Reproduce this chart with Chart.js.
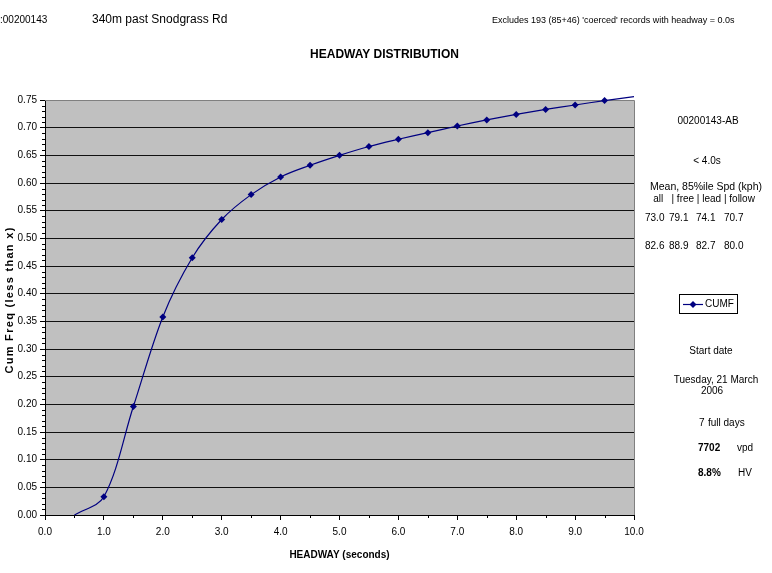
<!DOCTYPE html>
<html><head><meta charset="utf-8">
<script src="https://cdn.jsdelivr.net/npm/chart.js@4.4.1/dist/chart.umd.min.js"></script>
<style>html,body{margin:0;padding:0;background:#fff}#wrap{width:772px;height:573px;position:relative}</style>
</head><body><div id="wrap"><canvas id="c" width="772" height="573"></canvas></div>
<script>
// ---- data ----
const headway = [0.5,1.0,1.5,2.0,2.5,3.0,3.5,4.0,4.5,5.0,5.5,6.0,6.5,7.0,7.5,8.0,8.5,9.0,9.5,10.0];
const cumFreq = [0.000,0.033,0.196,0.358,0.465,0.534,0.579,0.611,0.632,0.650,0.666,0.679,0.691,0.703,0.714,0.724,0.733,0.741,0.749,0.756];
const xTickValues = [0,1,2,3,4,5,6,7,8,9,10];
const yTickValues = [0,0.05,0.10,0.15,0.20,0.25,0.30,0.35,0.40,0.45,0.50,0.55,0.60,0.65,0.70,0.75];
const seriesName = 'CUMF';
const siteId = ':00200143';
const siteName = '340m past Snodgrass Rd';
const excludesNote = "Excludes 193 (85+46) 'coerced' records with headway = 0.0s";
const chartTitle = 'HEADWAY DISTRIBUTION';
const xTitle = 'HEADWAY (seconds)';
const yTitle = 'Cum Freq (less than x)';
const panelId = '00200143-AB';
const panelLimit = '< 4.0s';
const panelSpdHead = 'Mean, 85%ile Spd (kph)';
const panelSpdCols = 'all   | free | lead | follow';
const meanSpd = ['73.0','79.1','74.1','70.7'];
const p85Spd = ['82.6','88.9','82.7','80.0'];
const startLabel = 'Start date';
const startDate = ['Tuesday, 21 March','2006'];
const fullDays = ['7','full days'];
const vpd = ['7702','vpd'];
const hv = ['8.8%','HV'];

const FONT = '"Liberation Sans", Arial, sans-serif';
const NAVY = '#000080';

const decor = {
  id:'decor',
  beforeDraw(chart){
    const {ctx, chartArea:a} = chart;
    ctx.save();
    ctx.fillStyle = '#C0C0C0';
    ctx.fillRect(a.left, a.top, a.right-a.left, a.bottom-a.top);
    ctx.restore();
  },
  beforeDatasetsDraw(chart){
    const {ctx, chartArea:a, scales} = chart;
    ctx.save();
    ctx.strokeStyle = '#808080'; ctx.lineWidth = 1;
    ctx.beginPath();
    ctx.moveTo(a.left, a.top+0.5); ctx.lineTo(a.right+0.5, a.top+0.5);
    ctx.lineTo(a.right+0.5, a.bottom);
    ctx.stroke();
    // minor ticks
    ctx.strokeStyle = '#000';
    ctx.beginPath();
    for (let i=1;i<75;i++){
      if (i%5===0) continue;
      const y = Math.round(scales.y.getPixelForValue(i/100))+0.5;
      ctx.moveTo(a.left-3, y); ctx.lineTo(a.left, y);
    }
    for (let i=0;i<10;i++){
      const x = Math.round(scales.x.getPixelForValue(i+0.5))+0.5;
      ctx.moveTo(x, a.bottom); ctx.lineTo(x, a.bottom+3);
    }
    ctx.stroke();
    ctx.restore();
  },
  afterDraw(chart){
    const {ctx, chartArea:a} = chart;
    ctx.save();
    ctx.fillStyle = '#000';
    ctx.textBaseline = 'middle';
    const t = (s, x, y, size, align, bold) => {
      ctx.font = (bold?'bold ':'') + size + 'px ' + FONT;
      ctx.textAlign = align;
      ctx.fillText(s, x, y);
    };
    t(siteId, 0, 20, 10, 'left');
    t(siteName, 92, 20, 12, 'left');
    t(excludesNote, 492, 21, 9, 'left');
    t(chartTitle, 384.5, 55, 12, 'center', true);
    t(xTitle, (a.left+a.right)/2, 555, 10, 'center', true);
    // y title
    ctx.save();
    ctx.translate(10, 300);
    ctx.rotate(-Math.PI/2);
    ctx.letterSpacing = '1.3px';
    t(yTitle, 0, 0, 11, 'center', true);
    ctx.restore();
    // panel
    t(panelId, 708, 121, 10, 'center');
    t(panelLimit, 707, 161, 10, 'center');
    t(panelSpdHead, 706, 187, 10.5, 'center');
    t(panelSpdCols, 704, 199, 10, 'center');
    const cols = [645, 669, 696, 724];
    meanSpd.forEach((s,i)=>t(s, cols[i], 218, 10, 'left'));
    p85Spd.forEach((s,i)=>t(s, cols[i], 246, 10, 'left'));
    // legend
    const ds = chart.data.datasets[0];
    ctx.strokeStyle = '#000'; ctx.lineWidth = 1;
    ctx.strokeRect(679.5, 294.5, 58, 19);
    ctx.strokeStyle = ds.borderColor; ctx.lineWidth = 1.2;
    ctx.beginPath(); ctx.moveTo(683, 304.5); ctx.lineTo(703, 304.5); ctx.stroke();
    ctx.fillStyle = ds.backgroundColor;
    ctx.beginPath(); ctx.moveTo(693, 301); ctx.lineTo(696.5, 304.5); ctx.lineTo(693, 308); ctx.lineTo(689.5, 304.5); ctx.closePath(); ctx.fill();
    ctx.fillStyle = '#000';
    t(ds.label, 705, 304.5, 10, 'left');
    t(startLabel, 711, 351, 10, 'center');
    t(startDate[0], 716, 380, 10, 'center');
    t(startDate[1], 712, 391, 10, 'center');
    t(fullDays[0], 699, 423, 10, 'left');
    t(fullDays[1], 708, 423, 10, 'left');
    t(vpd[0], 698, 448, 10, 'left', true);
    t(vpd[1], 737, 448, 10, 'left');
    t(hv[0], 698, 473, 10, 'left', true);
    t(hv[1], 738, 473, 10, 'left');
    ctx.restore();
  }
};

new Chart(document.getElementById('c'), {
  type:'line',
  data:{datasets:[{
    label: seriesName,
    data: headway.map((x,i)=>({x, y:cumFreq[i]})),
    borderColor: NAVY, backgroundColor: NAVY,
    borderWidth: 1.2, tension: 0.33,
    pointStyle:'rectRot',
    pointRadius: c => (c.raw && (c.raw.y <= 0 || c.raw.y > 0.75)) ? 0 : 3.5,
    pointBorderWidth: 0,
    clip: false
  }]},
  options:{
    responsive:false, animation:false,
    layout:{padding:{left:0,right:138,top:100,bottom:0}},
    plugins:{legend:{display:false}, tooltip:{enabled:false}},
    scales:{
      x:{
        type:'linear', min:0, max:10,
        afterBuildTicks: s => { s.ticks = xTickValues.map(v=>({value:v})); },
        afterFit: s => { s.height = 58; },
        grid:{drawOnChartArea:false, drawTicks:true, tickLength:5, color:'#000'},
        border:{color:'#000'},
        ticks:{font:{family:FONT,size:10}, color:'#000', padding:6, maxRotation:0, callback:v=>Number(v).toFixed(1)}
      },
      y:{
        type:'linear', min:0, max:0.75,
        afterBuildTicks: s => { s.ticks = yTickValues.map(v=>({value:v})); },
        afterFit: s => { s.width = 45; },
        grid:{color: c => (c.tick && c.tick.value >= 0.75) ? '#808080' : '#111', tickLength:5, tickColor:'#000'},
        border:{color:'#000'},
        ticks:{font:{family:FONT,size:10}, color:'#000', padding:3, callback:v=>Number(v).toFixed(2)}
      }
    }
  },
  plugins:[decor]
});
</script></body></html>
